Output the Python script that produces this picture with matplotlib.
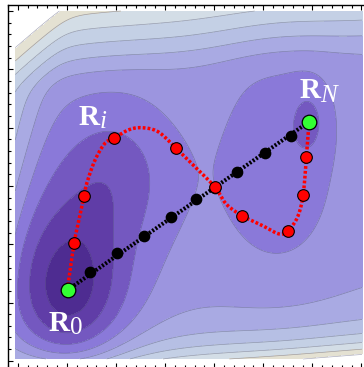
import numpy as np
import matplotlib
matplotlib.use("Agg")
import matplotlib.pyplot as plt
from matplotlib.colors import ListedColormap, BoundaryNorm

# --- surface: flat floor + walls, minus gaussian wells (normalised u, v coords)
floor = 4.75
well_u = [-0.70, -0.62, -0.42, 0.52, 0.695]
well_v = [-0.64, -0.35, 0.08, 0.12, 0.37]
well_depth = [3.6, 1.0, 1.6, 1.3, 1.17]
well_su = [0.23, 0.38, 0.25, 0.28, 0.08]
well_sv = [0.36, 0.60, 0.30, 0.53, 0.15]
top_wall = dict(slope=11.0, width=0.04, v0=0.6425, tilt=0.093)
left_wall = dict(slope=10.0, width=0.04, u0=0.87, tilt=-0.18)
bottom_wall = dict(amp=4.65, width=0.145, tilt=0.07)

levels = [-1, 1, 2, 3, 4, 5, 6, 7, 8, 9, 10, 99]
band_colors = ["#4e2c91", "#603da7", "#7458c0", "#8a79d9", "#9c95df", "#a9aae3",
               "#b6bfe4", "#c4d0e5", "#d3dde6", "#e4e1d2", "#ffffff"]

# images along the paths (pixel coords of the frame)
start = (65.7, 290.0)
end = (308.7, 121.7)
guess_x = [88.3, 115.7, 142.7, 169.3, 195.3, 213.7, 236.3, 264.0, 290.3]
guess_y = [271.7, 253.3, 235.7, 216.7, 199.0, 187.5, 172.3, 153.3, 136.0]
mep_x = [72.3, 82.3, 112.3, 174.3, 213.7, 241.3, 287.3, 302.7, 306.0]
mep_y = [243.0, 196.0, 138.3, 147.7, 186.7, 215.7, 230.7, 195.0, 157.3]
# points along the relaxed path curve
curve_x = [65.7, 66.7, 72.3, 76.0, 82.3, 85.0, 93.3, 103.3, 112.3, 126.7, 140.0, 156.7,
           174.3, 193.0, 213.7, 225.3, 241.3, 262.0, 278.7, 287.3, 297.0, 302.7, 306.0, 308.7]
curve_y = [290.0, 280.7, 243.0, 225.0, 196.0, 183.3, 160.0, 143.3, 138.3, 130.0, 127.7, 131.7,
           147.7, 166.0, 186.7, 204.0, 215.7, 225.7, 234.0, 230.7, 217.3, 195.0, 157.3, 121.7]

# label = bold R + subscript, split at x
label_sub = ["0", "i", "N"]
label_sub_style = ["normal", "italic", "italic"]
label_x = [68, 98, 320]
label_y = [331, 125, 98]
label_sub_y = [334, 128, 102]


def softplus(t, w):
    return w * np.log1p(np.exp(t / w))


def surface(px, py):
    u = (px - 187.5) / 174.5
    v = (185.0 - py) / 174.0
    z = np.full_like(u, floor)
    z += top_wall["slope"] * softplus(v - top_wall["v0"] - top_wall["tilt"] * u, top_wall["width"])
    z += left_wall["slope"] * softplus(-u - left_wall["u0"] - left_wall["tilt"] * v, left_wall["width"])
    z += bottom_wall["amp"] * np.exp((-v - 1 + bottom_wall["tilt"] * (u - 0.36)) / bottom_wall["width"])
    for cu, cv, d, su, sv in zip(well_u, well_v, well_depth, well_su, well_sv):
        z -= d * np.exp(-0.5 * (((u - cu) / su) ** 2 + ((v - cv) / sv) ** 2))
    return z


def catmull_rom(xs, ys, n=20):
    pts = np.column_stack([xs, ys])
    pts = np.vstack([pts[0], pts, pts[-1]])
    out = []
    t = np.linspace(0, 1, n, endpoint=False)[:, None]
    for i in range(1, len(pts) - 2):
        p0, p1, p2, p3 = pts[i - 1], pts[i], pts[i + 1], pts[i + 2]
        out.append(0.5 * (2 * p1 + (-p0 + p2) * t + (2 * p0 - 5 * p1 + 4 * p2 - p3) * t ** 2
                          + (-p0 + 3 * p1 - 3 * p2 + p3) * t ** 3))
    out.append(pts[-2][None, :])
    return np.vstack(out)


fig = plt.figure(figsize=(3.64, 3.67), dpi=100)
ax = fig.add_axes([8 / 364, -1 / 367, 358 / 364, 363 / 367])

gx = np.linspace(13, 362, 400)
gy = np.linspace(11, 359, 400)
X, Y = np.meshgrid(gx, gy)
Z = surface(X, Y)

cmap = ListedColormap(band_colors)
norm = BoundaryNorm(levels, cmap.N)
ax.contourf(X, Y, Z, levels=levels, cmap=cmap, norm=norm)
ax.contour(X, Y, Z, levels=levels[1:-1], colors="#4a4a6a", linewidths=0.5, alpha=0.45)

ax.plot([start[0], end[0]], [start[1], end[1]], color="black", lw=2.9,
        dashes=(0.5, 0.45), dash_capstyle="butt", zorder=3)
ax.plot(guess_x, guess_y, "o", ms=7.4, color="black", zorder=4)

curve = catmull_rom(curve_x, curve_y)
ax.plot(curve[:, 0], curve[:, 1], color="#ff0000", lw=2.5,
        dashes=(0.8, 0.6), dash_capstyle="butt", zorder=5)
ax.plot(mep_x, mep_y, "o", ms=8.4, mfc="#ff0000", mec="black", mew=0.8, zorder=6)
ax.plot([start[0], end[0]], [start[1], end[1]], "o", ms=10.5, mfc="#33ff33",
        mec="black", mew=0.9, zorder=7)

for sub, style, lx, ly, sy in zip(label_sub, label_sub_style, label_x, label_y, label_sub_y):
    ax.text(lx, ly, "R", color="white", fontsize=21, fontweight="bold",
            family="Liberation Serif", ha="right", va="baseline", zorder=8)
    ax.text(lx, sy, sub, color="white", fontsize=18, fontstyle=style,
            family="Liberation Serif", ha="left", va="baseline", zorder=8)

ax.set_xlim(8, 366)
ax.set_ylim(368, 5)
ax.set_xticks([15.6 + 49.4 * k for k in range(8)])
ax.set_xticks([15.6 + 9.88 * k for k in range(-1, 36)], minor=True)
ax.set_yticks([11 + 58.3 * k for k in range(7)])
ax.set_yticks([11 + 11.66 * k for k in range(31)], minor=True)
ax.tick_params(which="both", direction="in", top=True, bottom=True, left=True, right=False,
               labelbottom=False, labelleft=False, width=0.8)
ax.tick_params(which="major", length=3.8)
ax.tick_params(which="minor", length=2.2)
for side in ("top", "left", "bottom"):
    ax.spines[side].set_linewidth(1.0)
ax.spines["right"].set_visible(False)

fig.savefig("out.png", dpi=100)
